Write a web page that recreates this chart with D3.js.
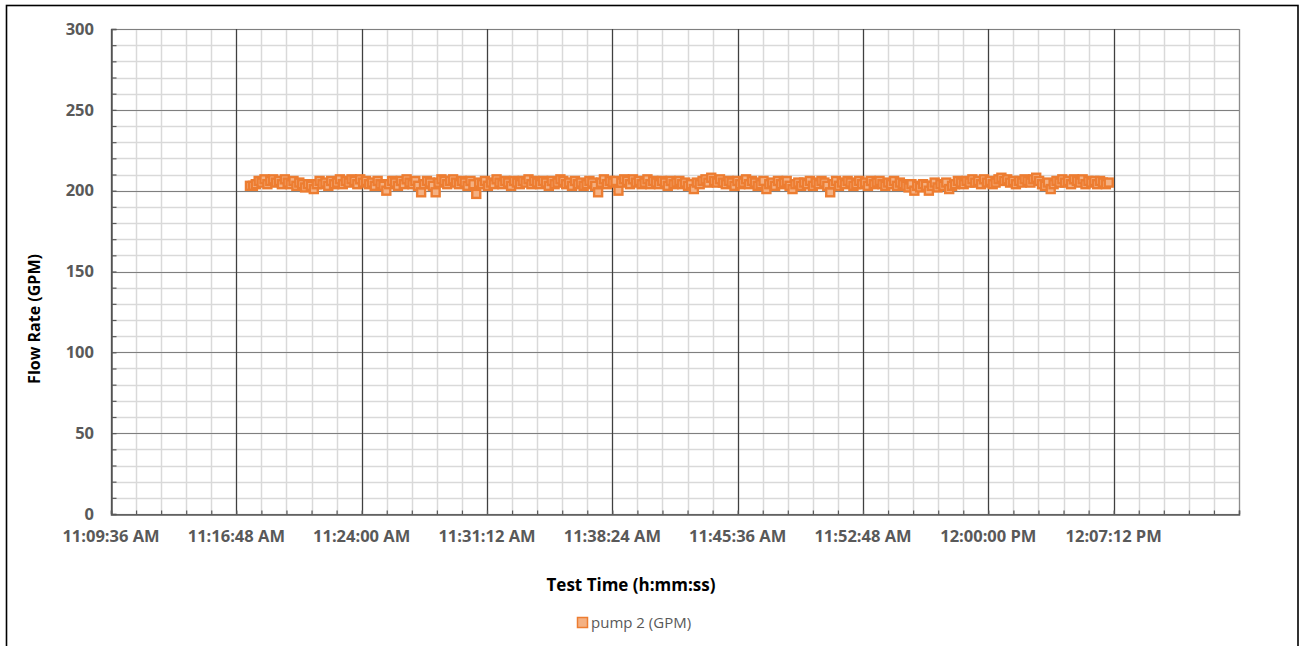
<!DOCTYPE html>
<html>
<head>
<meta charset="utf-8">
<script src="https://cdn.jsdelivr.net/npm/d3@7"></script>
<style>
  body { margin: 0; background: #fff; }
  svg { display: block; font-family: "Open Sans", "DejaVu Sans", sans-serif; }
</style>
</head>
<body>
<div id="chart"></div>
<script>
// axis settings
var xStart = new Date(2020, 0, 1, 11, 9, 36);
var xEnd = new Date(2020, 0, 1, 12, 14, 24);
var xMajorSeconds = 432;   // 7:12 between labels
var xMinorSeconds = 86.4;
var yMax = 300;
var yMajor = 50;
var yMinor = 10;

// logger samples, pump 2 flow (GPM), one every 10 s
var sampleStart = new Date(2020, 0, 1, 11, 17, 35);
var sampleStepSeconds = 10;
var pump2 = [
  203, 203, 204, 206, 205, 207, 204, 206, 207, 205,
  206, 204, 207, 205, 204, 206, 203, 205, 204, 202,
  204, 203, 201, 204, 206, 204, 205, 203, 206, 204,
  205, 207, 204, 206, 205, 207, 206, 204, 207, 205,
  206, 204, 205, 203, 206, 204, 203, 200, 204, 206,
  205, 203, 206, 204, 207, 205, 204, 206, 203, 199,
  204, 206, 205, 203, 199, 205, 207, 206, 204, 206,
  207, 205, 204, 206, 205, 203, 206, 204, 198, 205,
  204, 206, 203, 205, 204, 207, 205, 204, 206, 205,
  203, 206, 205, 204, 206, 205, 207, 204, 206, 205,
  204, 206, 205, 203, 206, 204, 205, 207, 206, 204,
  205, 203, 206, 204, 205, 203, 204, 206, 205, 203,
  199, 205, 207, 204, 206, 205, 206, 200, 205, 207,
  206, 204, 207, 205, 206, 204, 205, 207, 204, 206,
  205, 204, 206, 205, 203, 206, 204, 205, 206, 204,
  205, 203, 204, 201, 205, 204, 206, 207, 205, 208,
  206, 205, 207, 205, 204, 206, 205, 203, 206, 204,
  205, 207, 204, 206, 205, 203, 204, 206, 201, 204,
  205, 203, 206, 204, 205, 206, 203, 201, 204, 205,
  203, 205, 204, 206, 203, 205, 204, 206, 205, 203,
  199, 204, 206, 203, 205, 204, 206, 205, 203, 204,
  206, 204, 205, 203, 206, 204, 205, 206, 204, 203,
  205, 204, 206, 203, 205, 204, 203, 202, 204, 200,
  203, 202, 204, 203, 200, 203, 205, 202, 204, 203,
  205, 201, 203, 204, 206, 205, 204, 206, 205, 207,
  205, 206, 204, 207, 205, 206, 204, 205, 207, 208,
  206, 207, 205, 206, 204, 206, 205, 207, 206, 205,
  207, 208, 206, 204, 203, 205, 201, 204, 206, 205,
  207, 205, 206, 204, 207, 206, 205, 207, 204, 206,
  205, 206, 204, 206, 205, 204, 205
];

var seriesName = "pump 2 (GPM)";
var xTitle = "Test Time (h:mm:ss)";
var yTitle = "Flow Rate (GPM)";

var width = 1300, height = 646;
var plot = { left: 111, right: 1239, top: 29, bottom: 514 };

var data = pump2.map(function(v, i) {
    return { t: new Date(sampleStart.getTime() + i * sampleStepSeconds * 1000), v: v };
});

var xScale = d3.scaleTime()
    .domain([xStart, xEnd])
    .range([plot.left, plot.right]);

var yScale = d3.scaleLinear()
    .domain([0, yMax])
    .range([plot.bottom, plot.top]);

var spanSec = (xEnd - xStart) / 1000;
var xMajorTicks = d3.range(0, spanSec + 0.01, xMajorSeconds).map(function(s) {
    return new Date(xStart.getTime() + s * 1000);
});
var xMinorTicks = d3.range(0, spanSec + 0.01, xMinorSeconds).map(function(s) {
    return new Date(xStart.getTime() + s * 1000);
});
var yMajorTicks = d3.range(0, yMax + 1, yMajor);
var yMinorTicks = d3.range(0, yMax + 1, yMinor);

var fmt = d3.timeFormat("%-I:%M:%S %p");

var svg = d3.select("#chart")
    .append("svg")
    .attr("width", width)
    .attr("height", height);

// outer chart frame
svg.append("rect")
    .attr("x", 6.5)
    .attr("y", 5.5)
    .attr("width", 1291.5)
    .attr("height", 660)
    .attr("fill", "#fff")
    .attr("stroke", "#000")
    .attr("stroke-width", 1.6);

// minor grid
var grid = svg.append("g").attr("class", "grid");

grid.selectAll("line.xminor")
    .data(xMinorTicks)
    .enter().append("line")
    .attr("class", "xminor")
    .attr("x1", function(d) { return Math.round(xScale(d)) + 0.5; })
    .attr("x2", function(d) { return Math.round(xScale(d)) + 0.5; })
    .attr("y1", plot.top)
    .attr("y2", plot.bottom)
    .attr("stroke", "#d9d9d9")
    .attr("stroke-width", 1.5);

grid.selectAll("line.yminor")
    .data(yMinorTicks)
    .enter().append("line")
    .attr("class", "yminor")
    .attr("x1", plot.left)
    .attr("x2", plot.right)
    .attr("y1", function(d) { return Math.round(yScale(d)) + 0.5; })
    .attr("y2", function(d) { return Math.round(yScale(d)) + 0.5; })
    .attr("stroke", "#d9d9d9")
    .attr("stroke-width", 1.5);

// major grid
grid.selectAll("line.ymajor")
    .data(yMajorTicks)
    .enter().append("line")
    .attr("class", "ymajor")
    .attr("x1", plot.left)
    .attr("x2", plot.right)
    .attr("y1", function(d) { return Math.round(yScale(d)) + 0.5; })
    .attr("y2", function(d) { return Math.round(yScale(d)) + 0.5; })
    .attr("stroke", "#7f7f7f")
    .attr("stroke-width", 1.2);

grid.selectAll("line.xmajor")
    .data(xMajorTicks)
    .enter().append("line")
    .attr("class", "xmajor")
    .attr("x1", function(d) { return Math.round(xScale(d)) + 0.5; })
    .attr("x2", function(d) { return Math.round(xScale(d)) + 0.5; })
    .attr("y1", plot.top)
    .attr("y2", plot.bottom)
    .attr("stroke", function(d, i) { return i === xMajorTicks.length - 1 ? "#8c8c8c" : "#404040"; })
    .attr("stroke-width", 1.2);

// axes (ticks point inward, like the original)
var yAxis = d3.axisRight(yScale)
    .tickValues(yMinorTicks)
    .tickSize(5)
    .tickFormat("");

svg.append("g")
    .attr("class", "y axis")
    .attr("transform", "translate(" + (plot.left + 0.5) + ",0)")
    .call(yAxis)
    .call(function(g) {
        g.selectAll("line").attr("stroke", "#595959").attr("stroke-width", 1.2);
        g.select(".domain").attr("stroke", "#595959").attr("stroke-width", 1.5);
    });

var xAxis = d3.axisTop(xScale)
    .tickValues(xMinorTicks)
    .tickSize(4)
    .tickFormat("");

svg.append("g")
    .attr("class", "x axis")
    .attr("transform", "translate(0," + (plot.bottom + 0.5) + ")")
    .call(xAxis)
    .call(function(g) {
        g.selectAll("line").attr("stroke", "#595959").attr("stroke-width", 1.2);
        g.select(".domain").attr("stroke", "#595959").attr("stroke-width", 1.5);
    });

// tick labels
svg.append("g").selectAll("text")
    .data(yMajorTicks)
    .enter().append("text")
    .attr("x", 94)
    .attr("y", function(d) { return yScale(d); })
    .attr("dy", "0.35em")
    .attr("text-anchor", "end")
    .attr("font-size", 16.5)
    .attr("font-weight", "bold")
    .attr("fill", "#595959")
    .text(function(d) { return d; });

svg.append("g").selectAll("text")
    .data(xMajorTicks.slice(0, xMajorTicks.length - 1))
    .enter().append("text")
    .attr("x", function(d) { return xScale(d); })
    .attr("y", 542)
    .attr("text-anchor", "middle")
    .attr("font-size", 16.5)
    .attr("font-weight", "bold")
    .attr("fill", "#595959")
    .text(function(d) { return fmt(d); });

// series: line plus square markers
var line = d3.line()
    .x(function(d) { return xScale(d.t); })
    .y(function(d) { return yScale(d.v); });

svg.append("path")
    .datum(data)
    .attr("fill", "none")
    .attr("stroke", "#ED7D31")
    .attr("stroke-width", 3)
    .attr("stroke-linejoin", "round")
    .attr("d", line);

var ms = 8;
svg.append("g").selectAll("rect")
    .data(data)
    .enter().append("rect")
    .attr("x", function(d) { return xScale(d.t) - ms / 2; })
    .attr("y", function(d) { return yScale(d.v) - ms / 2; })
    .attr("width", ms)
    .attr("height", ms)
    .attr("fill", "#F4B183")
    .attr("stroke", "#ED7D31")
    .attr("stroke-width", 2.4);

// axis titles
svg.append("text")
    .attr("text-anchor", "middle")
    .attr("transform", "translate(40,319)rotate(-90)")
    .attr("font-size", 16)
    .attr("font-weight", "bold")
    .attr("fill", "#000")
    .text(yTitle);

svg.append("text")
    .attr("x", 631)
    .attr("y", 591)
    .attr("text-anchor", "middle")
    .attr("font-size", 17)
    .attr("font-weight", "bold")
    .attr("fill", "#000")
    .text(xTitle);

// legend
var legend = svg.append("g").attr("transform", "translate(577,617)");
legend.append("rect")
    .attr("x", 0.5)
    .attr("y", 0.5)
    .attr("width", 10)
    .attr("height", 10)
    .attr("fill", "#F4B183")
    .attr("stroke", "#ED7D31")
    .attr("stroke-width", 1.5);
legend.append("text")
    .attr("x", 14)
    .attr("y", 10.5)
    .attr("font-size", 15)
    .attr("fill", "#595959")
    .text(seriesName);
</script>
</body>
</html>
